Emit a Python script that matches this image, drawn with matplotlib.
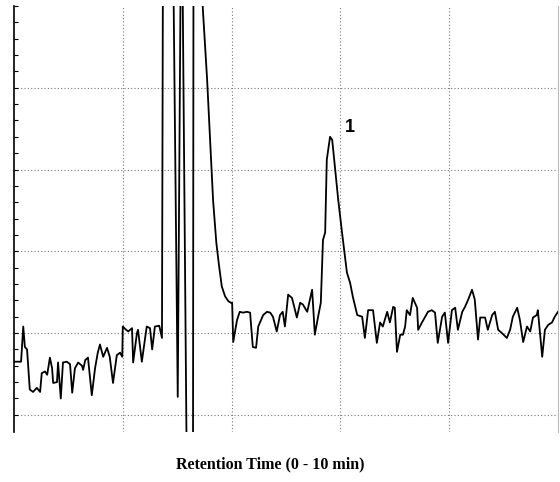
import numpy as np
import matplotlib
matplotlib.use("Agg")
import matplotlib.pyplot as plt

# retention time (min) and detector signal (grid units); 6 / -1 = off scale
time_min = [
    0.00, 0.13, 0.17, 0.20, 0.24, 0.29, 0.35, 0.42, 0.48, 0.51, 0.57, 0.61,
    0.66, 0.70, 0.72, 0.79, 0.81, 0.86, 0.90, 0.97, 1.03, 1.07, 1.12, 1.18,
    1.25, 1.27, 1.31, 1.36, 1.43, 1.49, 1.54, 1.58, 1.64, 1.71, 1.76, 1.82,
    1.89, 1.95, 1.99, 2.00, 2.06, 2.10, 2.17, 2.19, 2.26, 2.28, 2.35, 2.44,
    2.50, 2.54, 2.59, 2.67, 2.72, 2.74, 2.92, 3.01, 3.07, 3.09, 3.18, 3.29,
    3.30, 3.46, 3.47, 3.55, 3.66, 3.72, 3.77, 3.82, 3.88, 3.94, 3.99, 4.01,
    4.03, 4.10, 4.15, 4.21, 4.28, 4.34, 4.39, 4.45, 4.49, 4.58, 4.65, 4.71,
    4.76, 4.83, 4.89, 4.94, 4.98, 5.04, 5.11, 5.20, 5.26, 5.31, 5.39, 5.48,
    5.50, 5.53, 5.59, 5.64, 5.68, 5.72, 5.75, 5.81, 5.85, 5.90, 5.96, 6.03,
    6.12, 6.18, 6.23, 6.31, 6.40, 6.45, 6.51, 6.60, 6.67, 6.73, 6.78, 6.86,
    6.91, 6.97, 7.00, 7.04, 7.10, 7.15, 7.19, 7.22, 7.28, 7.33, 7.41, 7.43,
    7.50, 7.56, 7.61, 7.68, 7.74, 7.79, 7.87, 7.92, 7.98, 8.05, 8.11, 8.16,
    8.24, 8.29, 8.35, 8.42, 8.47, 8.53, 8.57, 8.66, 8.71, 8.79, 8.84, 8.90,
    8.97, 9.06, 9.12, 9.17, 9.25, 9.30, 9.36, 9.43, 9.49, 9.54, 9.61, 9.63,
    9.71, 9.76, 9.82, 9.89, 9.94, 10.00,
]
signal = [
    0.65, 0.65, 1.08, 0.83, 0.80, 0.31, 0.28, 0.33, 0.28, 0.51, 0.53, 0.49,
    0.70, 0.57, 0.39, 0.40, 0.64, 0.20, 0.64, 0.65, 0.62, 0.27, 0.57, 0.64,
    0.60, 0.55, 0.67, 0.70, 0.24, 0.57, 0.76, 0.86, 0.71, 0.82, 0.71, 0.39,
    0.73, 0.76, 0.71, 1.08, 1.04, 1.02, 1.06, 0.64, 1.00, 1.04, 0.65, 1.08,
    1.06, 0.80, 1.08, 1.09, 0.94, 6.00, 6.00, 0.22, 6.00, 6.00, -1.00, -1.00,
    6.00, 6.00, 4.98, 4.10, 2.62, 2.10, 1.82, 1.57, 1.45, 1.39, 1.37, 1.37,
    0.89, 1.16, 1.26, 1.25, 1.26, 1.25, 0.83, 0.82, 1.08, 1.22, 1.26, 1.25,
    1.20, 1.02, 1.22, 1.26, 1.08, 1.47, 1.43, 1.19, 1.37, 1.35, 1.26, 1.53,
    1.32, 0.98, 1.20, 1.37, 2.14, 2.23, 3.12, 3.40, 3.36, 3.03, 2.63, 2.23,
    1.74, 1.61, 1.44, 1.22, 1.20, 0.94, 1.28, 1.28, 0.88, 1.13, 1.08, 1.26,
    1.13, 1.32, 1.31, 0.77, 0.98, 0.98, 1.08, 1.28, 1.22, 1.43, 1.31, 1.04,
    1.13, 1.20, 1.26, 1.28, 1.25, 0.88, 1.20, 1.25, 0.88, 1.28, 1.31, 1.04,
    1.26, 1.32, 1.41, 1.53, 1.41, 0.92, 1.19, 1.19, 1.04, 1.22, 1.26, 1.04,
    1.00, 0.94, 1.04, 1.20, 1.31, 1.16, 0.89, 1.08, 1.02, 1.19, 1.22, 1.28,
    0.71, 1.04, 1.10, 1.13, 1.20, 1.26,
]
peak_label = "1"
peak_pos = (6.17, 3.52)
xlabel = "Retention Time (0 - 10 min)"

fig = plt.figure(figsize=(5.6, 4.82), dpi=100)
ax = fig.add_axes([0.025, 0.1037, 0.9714, 0.8839])

ax.plot(time_min, signal, color="black", lw=1.3, solid_joinstyle="round")
ax.text(*peak_pos, peak_label, fontsize=13, fontweight="bold",
        family="Liberation Sans", ha="center", va="center")

ax.set_xlim(0, 10)
ax.set_ylim(-0.21, 5.0)
ax.set_xticks([2, 4, 6, 8])
ax.set_yticks([0, 1, 2, 3, 4])
ax.set_yticks(np.arange(0, 5.01, 0.2), minor=True)
ax.grid(True, which="major", ls=(0, (1, 2)), color="#777777", lw=0.8)
ax.tick_params(axis="x", length=0, labelbottom=False)
ax.tick_params(axis="y", which="both", direction="in", length=3,
               width=0.8, labelleft=False)

for s in ["top", "bottom"]:
    ax.spines[s].set_visible(False)
ax.spines["left"].set_linewidth(1.2)
ax.spines["right"].set_color("#bbbbbb")
ax.spines["right"].set_linewidth(0.8)

fig.text(0.482, 0.037, xlabel, ha="center", va="center", fontsize=11.5,
         fontweight="bold", family="Liberation Serif")

fig.savefig("out.png", dpi=100)
